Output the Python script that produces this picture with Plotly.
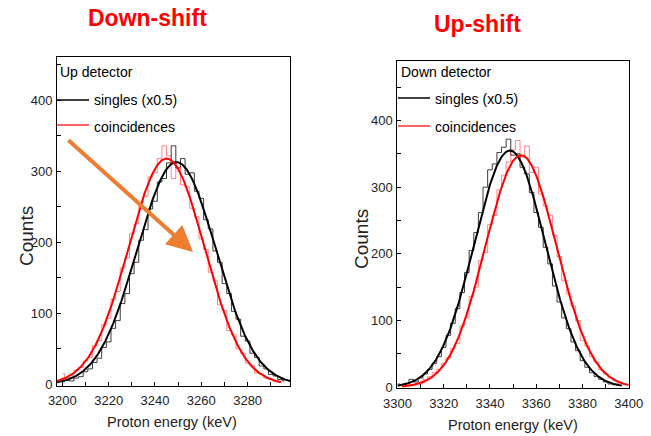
import numpy as np
import plotly.graph_objects as go

# ---------------- data ----------------
bin_width = 2.0

# Left panel (Up detector) - histograms, first bin centre and counts
up_singles_start = 3200
up_singles_counts = [4, 6, 5, 9, 11, 18, 22, 31, 37, 52, 60, 79, 90, 114, 128, 156, 172, 203, 218, 247,
                     258, 285, 290, 312, 336, 305, 318, 296, 298, 272, 262, 232, 219, 188, 172, 142, 128,
                     103, 92, 68, 61, 44, 38, 26, 22, 14, 12, 7, 5]
up_coinc_start = 3200
up_coinc_counts = [15, 9, 13, 20, 24, 33, 38, 55, 62, 84, 93, 120, 131, 164, 178, 212, 226, 256, 265, 292,
                   298, 318, 336, 322, 290, 312, 281, 278, 248, 236, 205, 190, 158, 146, 112, 104, 76, 70,
                   50, 44, 30, 27, 16, 15, 9, 8, 4, 3]

# Right panel (Down detector)
down_singles_start = 3300
down_singles_counts = [5, 4, 6, 12, 8, 14, 20, 27, 36, 46, 60, 78, 96, 118, 142, 172, 205, 232, 262, 300,
                       326, 335, 352, 360, 372, 348, 350, 330, 320, 292, 262, 240, 210, 185, 152, 128, 104,
                       88, 68, 55, 40, 30, 22, 16, 12, 8, 5, 4, 3]
down_coinc_start = 3302
down_coinc_counts = [3, 2, 4, 6, 5, 12, 16, 22, 27, 36, 44, 58, 66, 92, 104, 136, 150, 190, 202, 244,
                     258, 296, 318, 338, 356, 370, 345, 362, 322, 330, 290, 272, 258, 228, 196, 160, 140,
                     122, 100, 70, 62, 46, 38, 26, 20, 14, 10, 6, 5]

# Gaussian fit parameters: amplitude, centre (keV), sigma (keV), fit range
up_singles_fit = [313, 3249.3, 17.0, 3197.7, 3298.3]
up_coinc_fit = [318, 3245.0, 16.4, 3197.7, 3294.5]
down_singles_fit = [355, 3348.6, 15.4, 3300.0, 3397.0]
down_coinc_fit = [348, 3353.4, 15.4, 3302.0, 3400.0]

x_ticks_left = [3200, 3220, 3240, 3260, 3280]
x_ticks_right = [3300, 3320, 3340, 3360, 3380, 3400]
y_ticks = [0, 100, 200, 300, 400]

# ---------------- styling ----------------
W, H = 651, 436
FONT = "Liberation Sans, Arial, sans-serif"
BLACK_HIST = "#3a3a3a"
RED_HIST = "rgba(255,40,40,0.55)"


def px(x):
    return x / W


def py(y):
    return 1 - y / H


def centres(start, counts):
    return start + bin_width * np.arange(len(counts))


def gauss(p):
    a, c, s, lo, hi = p
    xx = np.linspace(lo, hi, 400)
    return xx, a * np.exp(-(xx - c) ** 2 / (2 * s * s))


fig = go.Figure()

panels = [
    ("x", "y", up_singles_start, up_singles_counts, up_coinc_start, up_coinc_counts,
     up_singles_fit, up_coinc_fit),
    ("x2", "y2", down_singles_start, down_singles_counts, down_coinc_start, down_coinc_counts,
     down_singles_fit, down_coinc_fit),
]
for xa, ya, s0, sc, c0, cc, sf, cf in panels:
    fig.add_trace(go.Scatter(x=centres(s0, sc), y=sc, mode="lines", line_shape="hvh",
                             line=dict(color=BLACK_HIST, width=1), xaxis=xa, yaxis=ya,
                             showlegend=False, hoverinfo="skip"))
    fig.add_trace(go.Scatter(x=centres(c0, cc), y=cc, mode="lines", line_shape="hvh",
                             line=dict(color=RED_HIST, width=1), xaxis=xa, yaxis=ya,
                             showlegend=False, hoverinfo="skip"))
    fx, fy = gauss(sf)
    fig.add_trace(go.Scatter(x=fx, y=fy, mode="lines", line=dict(color="black", width=2),
                             xaxis=xa, yaxis=ya, showlegend=False))
    fx, fy = gauss(cf)
    fig.add_trace(go.Scatter(x=fx, y=fy, mode="lines", line=dict(color="#FF0000", width=2),
                             xaxis=xa, yaxis=ya, showlegend=False))

axis_common = dict(showline=True, mirror=True, linecolor="black", linewidth=1,
                   ticks="inside", ticklen=4, tickwidth=1, tickcolor="black",
                   showgrid=False, zeroline=False, automargin=False,
                   tickfont=dict(family=FONT, size=13, color="#222"))

fig.update_layout(
    template="none",
    width=W, height=H,
    margin=dict(l=0, r=0, t=0, b=0),
    paper_bgcolor="white", plot_bgcolor="white",
    showlegend=False,
    xaxis=dict(domain=[px(57), px(290)], range=[3197.7, 3298.3], anchor="y",
               tickvals=x_ticks_left, ticklabelstandoff=3,
               minor=dict(dtick=10, tick0=3200, ticks="inside", ticklen=4, tickcolor="black"),
               **axis_common),
    yaxis=dict(domain=[py(385.5), py(57)], range=[-1.4, 461], anchor="x",
               tickvals=y_ticks, ticklabelstandoff=1,
               minor=dict(dtick=50, tick0=0, ticks="inside", ticklen=4, tickcolor="black"),
               **axis_common),
    xaxis2=dict(domain=[px(397.4), px(628.8)], range=[3300, 3400], anchor="y2",
                tickvals=x_ticks_right, ticklabelstandoff=3,
                minor=dict(dtick=10, tick0=3300, ticks="inside", ticklen=4, tickcolor="black"),
                **axis_common),
    yaxis2=dict(domain=[py(388), py(61)], range=[-1, 489.2], anchor="x2",
                tickvals=y_ticks, ticklabelstandoff=1,
                minor=dict(dtick=50, tick0=0, ticks="inside", ticklen=4, tickcolor="black"),
                **axis_common),
)

annotations = []
shapes = []


def text(x, y, s, size=14, anchor="left", color="black", angle=0):
    annotations.append(dict(x=px(x), y=py(y), xref="paper", yref="paper", text=s,
                            showarrow=False, xanchor=anchor, yanchor="middle", textangle=angle,
                            font=dict(family=FONT, size=size, color=color)))


def legline(x0, x1, y, color):
    shapes.append(dict(type="line", xref="paper", yref="paper", x0=px(x0), x1=px(x1),
                       y0=py(y), y1=py(y), line=dict(color=color, width=1.5)))


# titles
text(147, 18, "<b>Down-shift</b>", size=23, anchor="center", color="#FF0000")
text(477, 24, "<b>Up-shift</b>", size=23, anchor="center", color="#FF0000")

# axis titles
text(26, 236, "Counts", size=19, anchor="center", color="#222", angle=-90)
text(361, 239, "Counts", size=19, anchor="center", color="#222", angle=-90)
text(172, 422, "Proton energy (keV)", size=14.5, anchor="center", color="#222")
text(513, 425, "Proton energy (keV)", size=14.5, anchor="center", color="#222")

# left legend
text(58, 72, "Up detector")
legline(57, 89, 100, "black")
text(92, 100, "singles (x0.5)")
legline(57, 89, 125, "#FF3030")
text(92, 127, "coincidences")

# right legend
text(399, 72, "Down detector")
legline(398, 430, 98, "black")
text(433, 99, "singles (x0.5)")
legline(398, 430, 126, "#FF3030")
text(433, 127, "coincidences")

# orange arrow
annotations.append(dict(x=px(193), y=py(252), xref="paper", yref="paper", text="",
                        showarrow=True, ax=67 - 193, ay=139 - 252, arrowhead=2, arrowsize=1.3,
                        arrowwidth=4, arrowcolor="#ED7D31", standoff=0))

fig.update_layout(annotations=annotations, shapes=shapes)
fig.write_html("out.html")
